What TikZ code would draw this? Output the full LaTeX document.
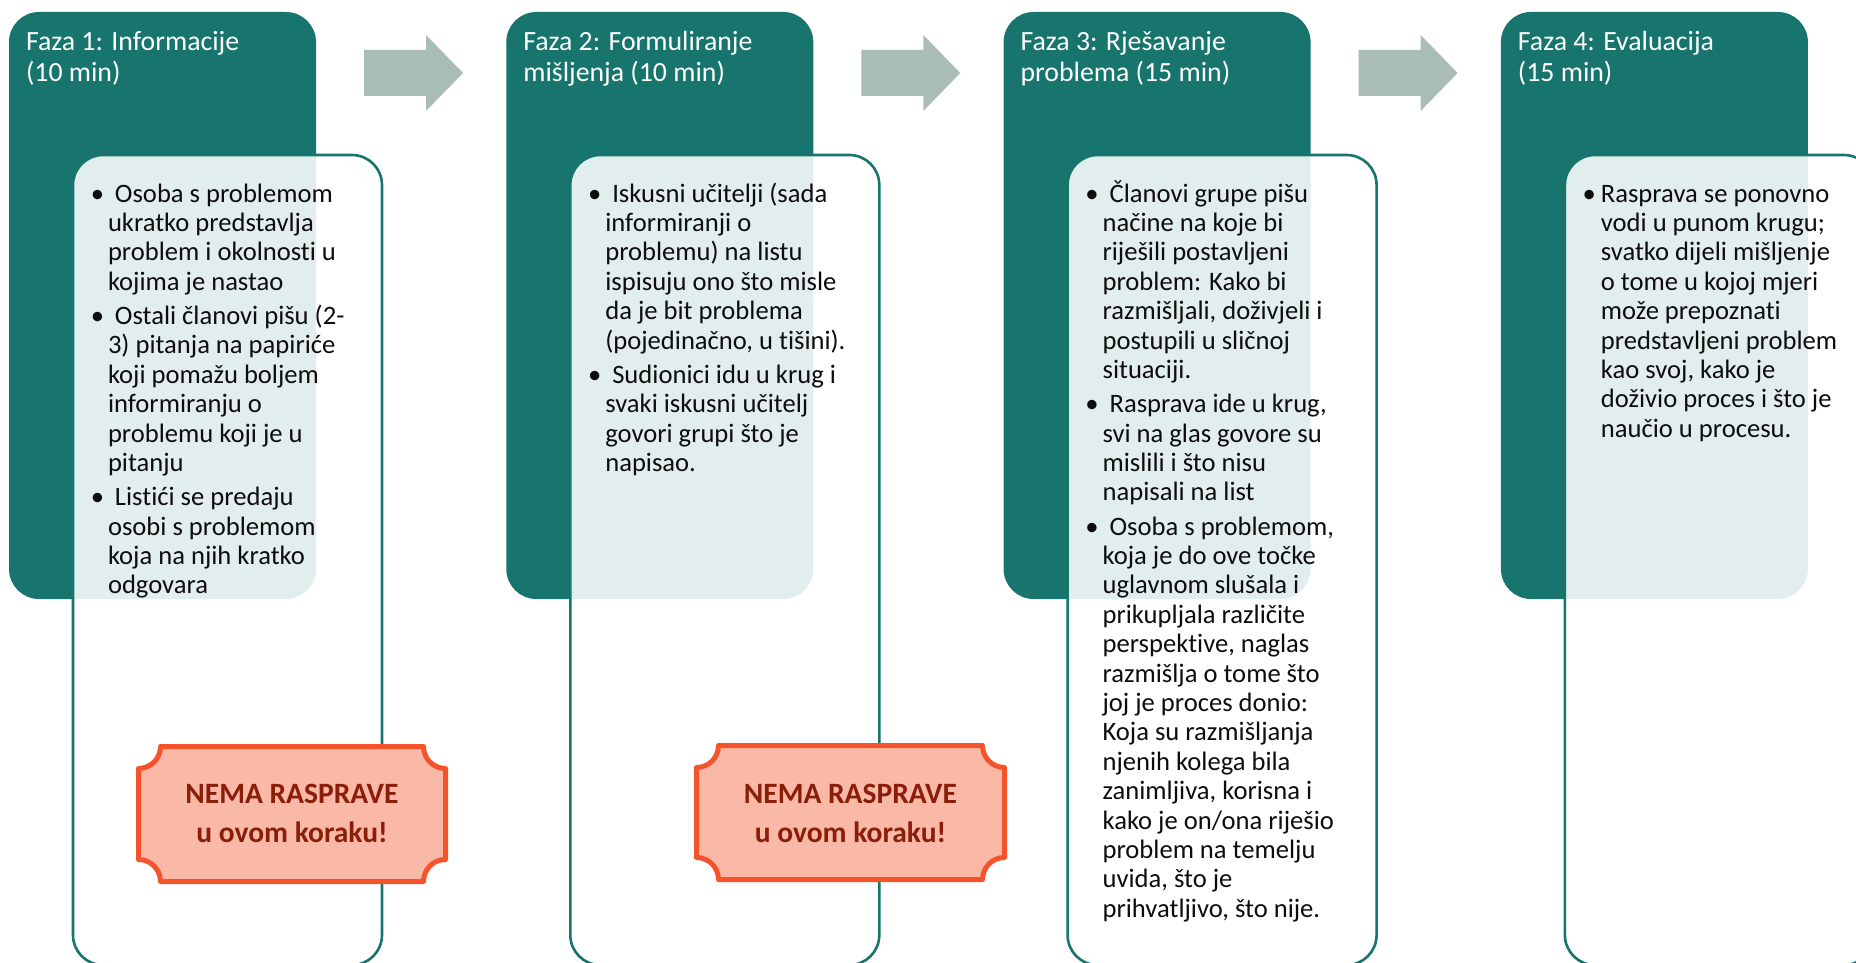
\documentclass[tikz,border=0pt]{standalone}
\usepackage{fontspec}
\setmainfont{Carlito}[Ligatures=NoCommon]
\definecolor{phase}{HTML}{17756E}
\definecolor{flow}{HTML}{A9BCB8}
\definecolor{badgefill}{HTML}{FAB8A6}
\definecolor{badgeline}{HTML}{F4532B}
\definecolor{badgetext}{HTML}{8B1E0A}
\definecolor{ink}{HTML}{0D0D0D}
% fixed-height strut so a node's top edge sits a known distance above its first baseline
\newcommand\topstrut{\rule{0pt}{24pt}}
% bullet hanging left of the text margin, with a small extra gap on the first line
\newcommand\bul{\topstrut\llap{\textbullet\hspace*{4pt}}\hspace*{7pt}}
\newcommand\bultight{\topstrut\llap{\textbullet\hspace*{5pt}}}
% plaque outline with concave corners: x0, y0, x1, y1
\newcommand\plaque[4]{%
  \draw[badge] (#1+22,#2) -- (#3-22,#2) arc[start angle=180,end angle=270,radius=22pt]
    -- (#3,#4-22) arc[start angle=90,end angle=180,radius=22pt]
    -- (#1+22,#4) arc[start angle=0,end angle=90,radius=22pt]
    -- (#1,#2+22) arc[start angle=270,end angle=360,radius=22pt] -- cycle;}
\begin{document}
\begin{tikzpicture}[x=1pt, y=-1pt, inner sep=0pt, outer sep=0pt,
  phasebox/.style={fill=phase, rounded corners=30pt, anchor=north west,
    minimum width=307pt, minimum height=587pt},
  notebox/.style={draw=phase, line width=2.6pt, fill=white, fill opacity=0.88,
    rounded corners=30pt, anchor=north west, minimum width=309pt, minimum height=810pt},
  title/.style={text=white, font=\fontsize{27.8}{31}\selectfont, align=left, anchor=north west},
  body/.style={text=ink, font=\fontsize{26.6}{29.4}\selectfont, align=left, anchor=north west},
  flowarrow/.style={fill=flow},
  badge/.style={fill=badgefill, draw=badgeline, line width=5pt, line join=round},
  badgelabel/.style={text=badgetext, font=\bfseries\fontsize{29.5}{39}\selectfont, align=center, anchor=base}]
\useasboundingbox (0,0) rectangle (1856,963);
\clip (0,0) rectangle (1856,963);

% phase header panels
\node[phasebox] (p1) at (9,12) {};
\node[phasebox] (p2) at (506.3,12) {};
\node[phasebox] (p3) at (1003.6,12) {};
\node[phasebox] (p4) at (1500.9,12) {};

% block arrows between the phases
\coordinate (a1) at (364,0);
\coordinate (a2) at (861.3,0);
\coordinate (a3) at (1358.6,0);
\foreach \a in {a1,a2,a3}{
  \fill[flowarrow] ([shift={(0,50)}]\a) -- ([shift={(62,50)}]\a) -- ([shift={(62,35)}]\a)
    -- ([shift={(99,73)}]\a) -- ([shift={(62,111)}]\a) -- ([shift={(62,96)}]\a)
    -- ([shift={(0,96)}]\a) -- cycle;
}

% content panels
\node[notebox] (n1) at (73,155) {};
\node[notebox] (n2) at (570.3,155) {};
\node[notebox] (n3) at (1067.6,155) {};
\node[notebox] (n4) at (1564.9,155) {};

% titles (first baseline at y = 51)
\node[title] (t1) at (26,27) {\topstrut Faza 1: Informacije\\(10 min)};
\node[title] (t2) at (523.3,27) {\topstrut Faza 2: Formuliranje\\mišljenja (10 min)};
\node[title] (t3) at (1020.6,27) {\topstrut Faza 3: Rješavanje\\problema (15 min)};
\node[title] (t4) at (1517.9,27) {\topstrut Faza 4: Evaluacija\\(15 min)};

% bullet texts (first baseline at y = 202)
\node[body] (b1) at (108,178) {%
\bul Osoba s problemom\\
ukratko predstavlja\\
problem i okolnosti u\\
kojima je nastao\\[4.8pt]
\bul Ostali članovi pišu (2-\\
3) pitanja na papiriće\\
koji pomažu boljem\\
informiranju o\\
problemu koji je u\\
pitanju\\[4.8pt]
\bul Listići se predaju\\
osobi s problemom\\
koja na njih kratko\\
odgovara};

\node[body] (b2) at (605.3,178) {%
\bul Iskusni učitelji (sada\\
informiranji o\\
problemu) na listu\\
ispisuju ono što misle\\
da je bit problema\\
(pojedinačno, u tišini).\\[4.8pt]
\bul Sudionici idu u krug i\\
svaki iskusni učitelj\\
govori grupi što je\\
napisao.};

\node[body] (b3) at (1102.6,178) {%
\bul Članovi grupe pišu\\
načine na koje bi\\
riješili postavljeni\\
problem: Kako bi\\
razmišljali, doživjeli i\\
postupili u sličnoj\\
situaciji.\\[4.8pt]
\bul Rasprava ide u krug,\\
svi na glas govore su\\
mislili i što nisu\\
napisali na list\\[4.8pt]
\bul Osoba s problemom,\\
koja je do ove točke\\
uglavnom slušala i\\
prikupljala različite\\
perspektive, naglas\\
razmišlja o tome što\\
joj je proces donio:\\
Koja su razmišljanja\\
njenih kolega bila\\
zanimljiva, korisna i\\
kako je on/ona riješio\\
problem na temelju\\
uvida, što je\\
prihvatljivo, što nije.};

\node[body] (b4) at (1600.9,178) {%
\bultight Rasprava se ponovno\\
vodi u punom krugu;\\
svatko dijeli mišljenje\\
o tome u kojoj mjeri\\
može prepoznati\\
predstavljeni problem\\
kao svoj, kako je\\
doživio proces i što je\\
naučio u procesu.};

% "no discussion" plaques (label anchored at the last baseline)
\plaque{138.5}{746.5}{445.5}{881.5}
\node[badgelabel] (w1) at (292,842) {NEMA RASPRAVE\\u ovom koraku!};
\plaque{696.5}{745.5}{1004.5}{879.5}
\node[badgelabel] (w2) at (850.5,842) {NEMA RASPRAVE\\u ovom koraku!};
\end{tikzpicture}
\end{document}
